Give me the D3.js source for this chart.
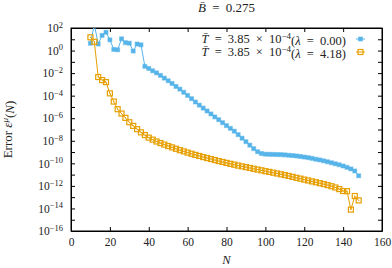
<!DOCTYPE html>
<html>
<head>
<meta charset="utf-8">
<script src="https://cdn.jsdelivr.net/npm/d3@7"></script>
<style>
body { margin: 0; background: #fff; }
svg text { font-family: "Liberation Serif", "DejaVu Serif", serif; fill: #222; }
</style>
</head>
<body>
<svg id="chart"></svg>
<script>
// N values (step 2)
const blueN = [10,12,14,16,18,20,22,24,26,28,30,32,34,36,38,40,42,44,46,48,50,52,54,56,58,60,62,64,66,68,70,72,74,76,78,80,82,84,86,88,90,92,94,96,98,100,102,104,106,108,110,112,114,116,118,120,122,124,126,128,130,132,134,136,138,140,142,144,146,148];
const blueErr = [4.4,2.0e2,3.8,22,42,8.9,1.26,1.17,11,5.0,4.5,0.91,3.8,3.2,4.0e-2,2.6e-2,1.6e-2,1.05e-2,6.3e-3,3.6e-3,2.1e-3,1.2e-3,6.6e-4,3.8e-4,2.0e-4,1.05e-4,5.4e-5,2.75e-5,1.45e-5,7.9e-6,4.4e-6,2.4e-6,1.3e-6,7.4e-7,4.0e-7,2.2e-7,1.26e-7,7.1e-8,3.5e-8,1.7e-8,8.3e-9,4.1e-9,2.0e-9,1.07e-9,7.4e-10,6.5e-10,6.3e-10,6.2e-10,6.0e-10,5.9e-10,5.6e-10,5.2e-10,4.9e-10,4.5e-10,4.1e-10,3.6e-10,3.2e-10,2.75e-10,2.3e-10,2.0e-10,1.66e-10,1.38e-10,1.12e-10,9.1e-11,7.4e-11,5.8e-11,4.4e-11,3.2e-11,2.1e-11,7.9e-12];

const orangeN = blueN;
const orangeErr = [15,6.0,4.5e-3,2.4e-3,1.6e-3,1.6e-4,3.0e-5,6.3e-6,2.6e-6,1.07e-6,4.4e-7,2.1e-7,1.07e-7,5.6e-8,3.2e-8,1.9e-8,1.26e-8,8.7e-9,6.3e-9,4.6e-9,3.4e-9,2.6e-9,1.95e-9,1.48e-9,1.15e-9,8.9e-10,7.1e-10,5.6e-10,4.5e-10,3.6e-10,2.95e-10,2.4e-10,1.95e-10,1.58e-10,1.32e-10,1.1e-10,9.1e-11,7.6e-11,6.3e-11,5.4e-11,4.6e-11,3.9e-11,3.3e-11,2.8e-11,2.4e-11,2.0e-11,1.74e-11,1.48e-11,1.26e-11,1.07e-11,9.1e-12,7.6e-12,6.3e-12,5.2e-12,4.4e-12,3.6e-12,3.0e-12,2.5e-12,2.1e-12,1.74e-12,1.45e-12,1.17e-12,9.3e-13,7.2e-13,5.2e-13,3.5e-13,3.4e-13,7.9e-15,1.26e-13,5.2e-14];

const xTicks = [0,20,40,60,80,100,120,140,160];
const yExponents = d3.range(-16, 3);
const seriesLabels = ["0.00", "4.18"];
const colors = ["#56B4E9", "#E69F00"];

const width = 392, height = 268;
const margin = {top: 28, right: 10, bottom: 37, left: 71};
const tickFont = 11.5, textFont = 12.5;

const svg = d3.select("#chart").attr("width", width).attr("height", height);

const x = d3.scaleLinear().domain([0, 160]).range([margin.left, width - margin.right]);
const y = d3.scaleLog().domain([1e-16, 1e2]).range([height - margin.bottom, margin.top]);

svg.append("clipPath").attr("id", "clip")
    .append("rect")
    .attr("x", x(0)).attr("y", y(1e2))
    .attr("width", x(160) - x(0)).attr("height", y(1e-16) - y(1e2));

const yTickVals = yExponents.map(e => Math.pow(10, e));

// axes, ticks pointing inward on all four sides
const gx = svg.append("g")
    .attr("transform", `translate(0,${y(1e-16)})`)
    .call(d3.axisBottom(x).tickValues(xTicks).tickSize(-4).tickPadding(7).tickSizeOuter(0));
svg.append("g")
    .attr("transform", `translate(0,${y(1e2)})`)
    .call(d3.axisTop(x).tickValues(xTicks).tickSize(-4).tickFormat("").tickSizeOuter(0));
const gy = svg.append("g")
    .attr("transform", `translate(${x(0)},0)`)
    .call(d3.axisLeft(y).tickValues(yTickVals).tickSize(-4).tickPadding(8).tickSizeOuter(0)
        .tickFormat(() => ""));
svg.append("g")
    .attr("transform", `translate(${x(160)},0)`)
    .call(d3.axisRight(y).tickValues(yTickVals).tickSize(-4).tickFormat("").tickSizeOuter(0));

svg.selectAll(".domain").attr("stroke", "#000");
svg.selectAll(".tick line").attr("stroke", "#000");
gx.selectAll("text").attr("font-size", tickFont).attr("font-family", "Liberation Serif");

gy.selectAll(".tick text").each(function (d) {
    const e = Math.round(Math.log10(d));
    if (e % 2 !== 0) return;
    const t = d3.select(this).attr("font-size", tickFont).attr("font-family", "Liberation Serif");
    t.append("tspan").text("10");
    t.append("tspan").attr("font-size", 8.5).attr("dy", "-0.5em")
        .text(e < 0 ? "\u2212" + (-e) : String(e));
});

// frame
svg.append("rect")
    .attr("x", x(0)).attr("y", y(1e2))
    .attr("width", x(160) - x(0)).attr("height", y(1e-16) - y(1e2))
    .attr("fill", "none").attr("stroke", "#000").attr("stroke-width", 1);

const line = d3.line().x(d => x(d[0])).y(d => y(d[1]));
const plot = svg.append("g").attr("clip-path", "url(#clip)");

const blueData = blueN.map((n, i) => [n, blueErr[i]]);
const orangeData = orangeN.map((n, i) => [n, orangeErr[i]]);

plot.append("path").datum(blueData).attr("d", line)
    .attr("fill", "none").attr("stroke", colors[0]).attr("stroke-width", 1);
plot.selectAll(".bm").data(blueData).join("rect").attr("class", "bm")
    .attr("x", d => x(d[0]) - 2).attr("y", d => y(d[1]) - 2)
    .attr("width", 4).attr("height", 4)
    .attr("fill", colors[0]).attr("stroke", colors[0]).attr("stroke-opacity", 0.5).attr("stroke-width", 1);

plot.append("path").datum(orangeData).attr("d", line)
    .attr("fill", "none").attr("stroke", colors[1]).attr("stroke-width", 1);
plot.selectAll(".om").data(orangeData).join("rect").attr("class", "om")
    .attr("x", d => x(d[0]) - 2.5).attr("y", d => y(d[1]) - 2.5)
    .attr("width", 5).attr("height", 5)
    .attr("fill", "none").attr("stroke", colors[1]).attr("stroke-width", 1.2);
plot.selectAll(".od").data(orangeData).join("rect").attr("class", "od")
    .attr("x", d => x(d[0]) - 0.5).attr("y", d => y(d[1]) - 0.5)
    .attr("width", 1).attr("height", 1).attr("fill", colors[1]);

// legend
const legY = [39, 52];
seriesLabels.forEach((lab, i) => {
    const t = svg.append("text").attr("x", 346).attr("y", legY[i] + 4)
        .attr("text-anchor", "end").attr("font-size", textFont).attr("word-spacing", 3);
    t.append("tspan").attr("font-style", "italic").text("T\u0304");
    t.append("tspan").text(" = 3.85 \u00d7 10");
    t.append("tspan").attr("font-size", 9).attr("dy", "-0.45em").text("\u22124");
    t.append("tspan").attr("dy", "0.45em").text("(");
    t.append("tspan").attr("font-style", "italic").text("\u03bb");
    t.append("tspan").text(` = ${lab})`);
    svg.append("line").attr("x1", 356).attr("x2", 365).attr("y1", legY[i]).attr("y2", legY[i])
        .attr("stroke", colors[i]).attr("stroke-width", 1);
    if (i === 0) {
        svg.append("rect").attr("x", 358.5).attr("y", legY[i] - 2).attr("width", 4).attr("height", 4)
            .attr("fill", colors[0]).attr("stroke", colors[0]).attr("stroke-opacity", 0.5);
    } else {
        svg.append("rect").attr("x", 358).attr("y", legY[i] - 2.5).attr("width", 5).attr("height", 5)
            .attr("fill", "none").attr("stroke", colors[1]).attr("stroke-width", 1.2);
    }
});

// title
const title = svg.append("text").attr("x", (x(0) + x(160)) / 2).attr("y", 12)
    .attr("text-anchor", "middle").attr("font-size", 13).attr("word-spacing", 3);
title.append("tspan").attr("font-style", "italic").text("B\u0304");
title.append("tspan").text(" = 0.275");

// x label
svg.append("text").attr("x", (x(0) + x(160)) / 2).attr("y", 264)
    .attr("text-anchor", "middle").attr("font-size", textFont).attr("font-style", "italic").text("N");

// y label
const yl = svg.append("text")
    .attr("transform", `translate(12,${(y(1e2) + y(1e-16)) / 2}) rotate(-90)`)
    .attr("text-anchor", "middle").attr("font-size", 13);
yl.append("tspan").text("Error ");
yl.append("tspan").attr("font-style", "italic").text("\u03b5");
yl.append("tspan").attr("font-style", "italic").attr("font-size", 9).attr("dy", "-0.5em").text("\u03bc");
yl.append("tspan").attr("dy", "0.5em").text("(");
yl.append("tspan").attr("font-style", "italic").text("N");
yl.append("tspan").text(")");
</script>
</body>
</html>
